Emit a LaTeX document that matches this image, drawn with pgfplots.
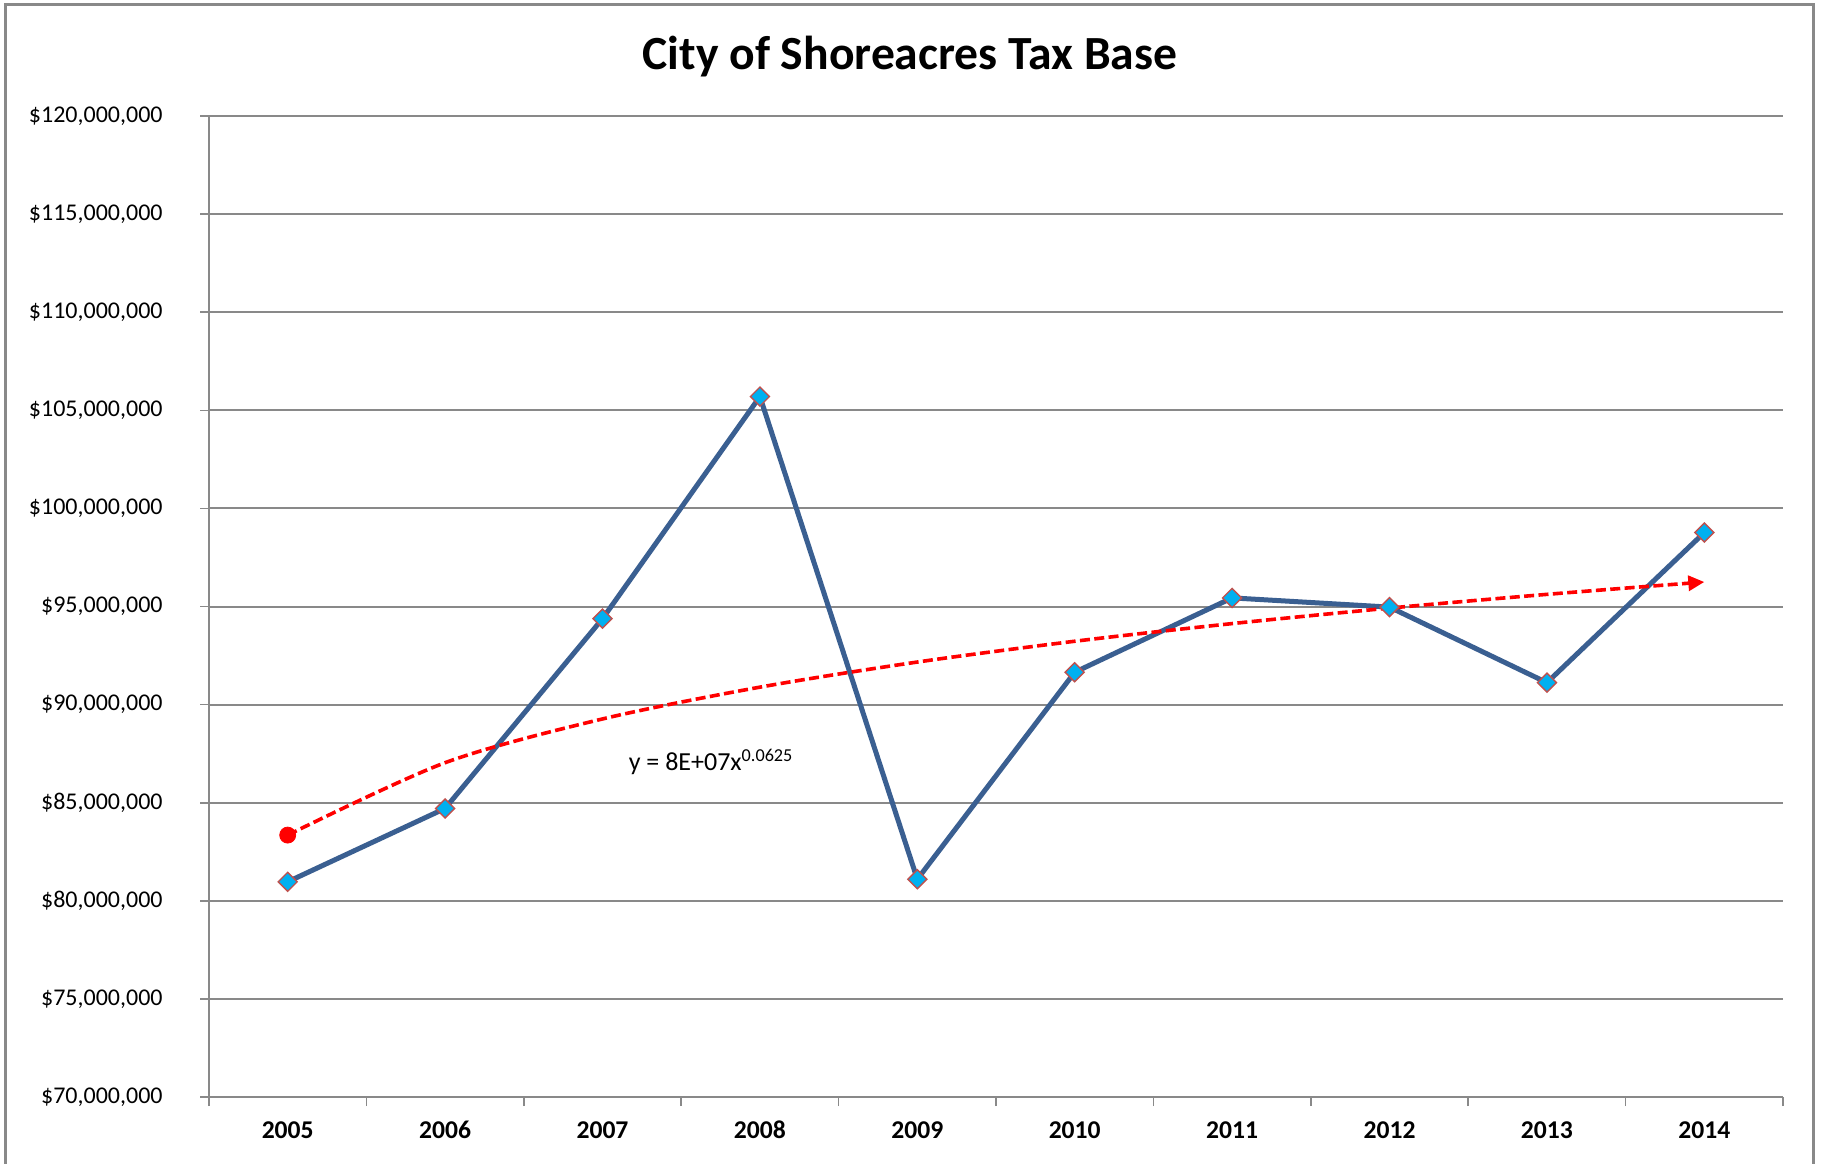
\documentclass[border=0pt]{standalone}
\usepackage{fontspec}
\setmainfont{Carlito}
\usepackage{pgfplots}
\pgfplotsset{compat=1.18}
\usetikzlibrary{arrows.meta}
\definecolor{gridgray}{RGB}{137,137,137}
\definecolor{lineblue}{RGB}{58,95,145}
\definecolor{markcyan}{RGB}{0,176,240}
\definecolor{markedge}{RGB}{192,80,77}
\begin{document}
\begin{tikzpicture}
\clip (0,0) rectangle (911.5pt,-581.5pt);
\fill[white] (0,0) rectangle (911.5pt,-581.5pt);
\draw[gridgray, line width=1.5pt] (2.5pt,-2pt) rectangle (906.5pt,-620pt);
\node[font=\fontsize{23.8}{28}\selectfont\bfseries] at (455pt,-28.5pt) {City of Shoreacres Tax Base};
\begin{axis}[
  at={(104.5pt,-548.5pt)}, anchor=south west,
  scale only axis, width=787pt, height=490.5pt,
  xmin=0.5, xmax=10.5, ymin=70, ymax=120,
  axis lines*=left,
  axis line style={gridgray, line width=0.8pt},
  tick align=outside,
  major tick length=4.5pt,
  tick style={gridgray, line width=0.8pt},
  xtick={0.5,1.5,...,10.5},
  x tick label as interval,
  xticklabels={2005,2006,2007,2008,2009,2010,2011,2012,2013,2014},
  xticklabel style={font=\fontsize{12.8}{15}\selectfont\bfseries, inner sep=0pt, anchor=base, yshift=-16pt},
  ytick={70,75,...,120},
  yticklabels={{\$70,000,000},{\$75,000,000},{\$80,000,000},{\$85,000,000},{\$90,000,000},{\$95,000,000},{\$100,000,000},{\$105,000,000},{\$110,000,000},{\$115,000,000},{\$120,000,000}},
  yticklabel style={font=\fontsize{12}{14}\selectfont, inner sep=0pt, anchor=east, xshift=-18.5pt},
  ymajorgrids,
  grid style={gridgray, line width=1pt},
  clip=false,
]
\addplot[lineblue, line width=2.5pt, mark=square*, mark size=3.36pt,
  mark options={rotate=45, fill=markcyan, draw=markedge, line width=0.7pt, solid}]
  coordinates {(1,80.97)(2,84.71)(3,94.38)(4,105.70)(5,81.10)(6,91.65)(7,95.44)(8,94.97)(9,91.12)(10,98.77)};
\addplot[red, line width=1.8pt, dash pattern=on 5pt off 2.2pt, smooth, -{Triangle[length=8pt,width=7.5pt]}]
  coordinates {(1,83.35)(2,87.04)(3,89.27)(4,90.89)(5,92.17)(6,93.23)(7,94.13)(8,94.92)(9,95.62)(10,96.25)};
\addplot[red, only marks, mark=*, mark size=4pt] coordinates {(1,83.35)};
\node[font=\fontsize{13}{15}\selectfont] at (axis cs:3.69,87.07) {y = 8E+07x\textsuperscript{0.0625}};
\end{axis}
\end{tikzpicture}
\end{document}
